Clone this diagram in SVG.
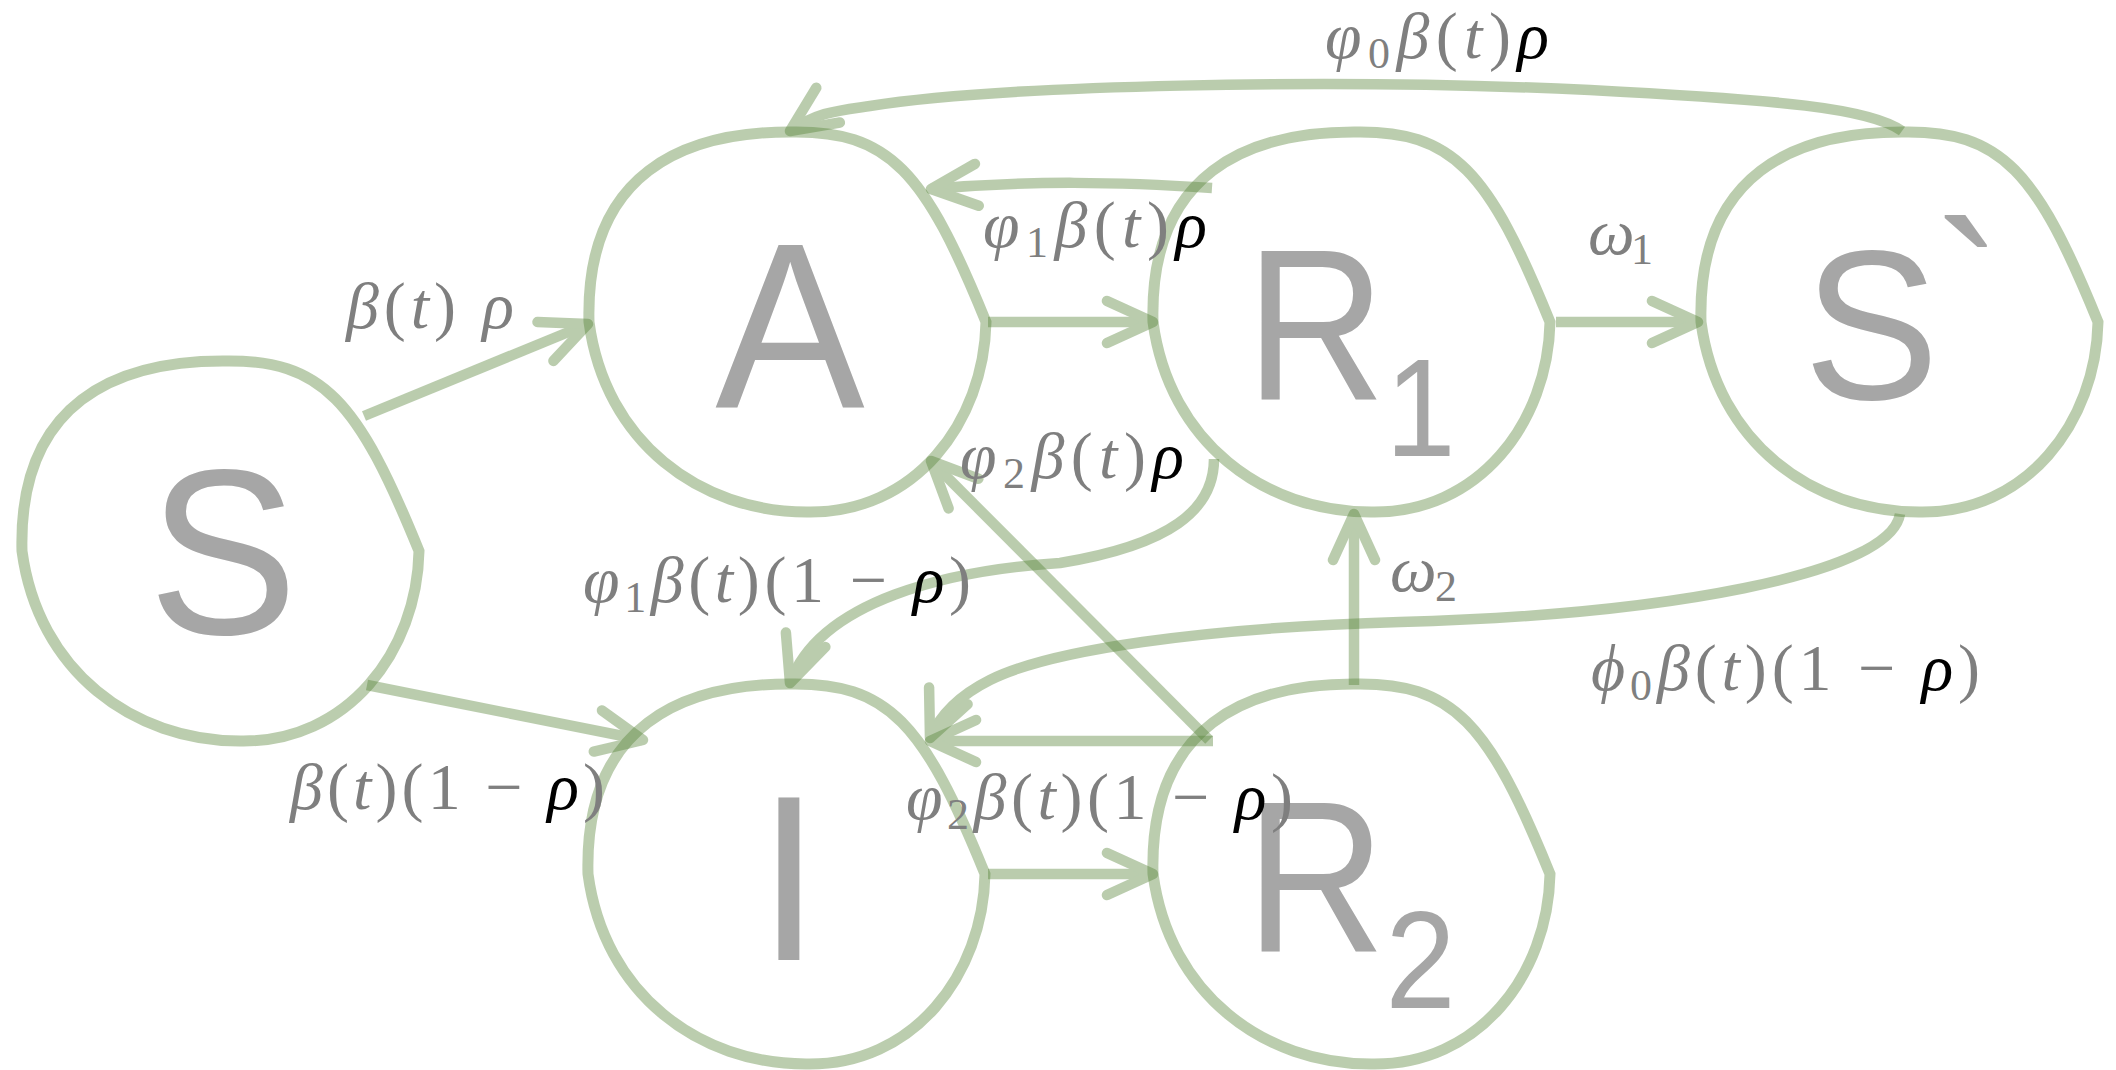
<svg xmlns="http://www.w3.org/2000/svg" xmlns:xlink="http://www.w3.org/1999/xlink" width="2116" height="1070" viewBox="0 0 2116 1070">
<style>
.blob{fill:none;stroke:#548235;stroke-opacity:0.4;stroke-width:11}
.nl{font-family:"Liberation Sans",Arial,sans-serif;fill:#a6a6a6}
.edge{fill:none;stroke:#548235;stroke-width:10.5;opacity:0.4;marker-end:url(#ah)}
.lbl{font-family:"Liberation Serif","Times New Roman",serif;font-size:66px;fill:#7f7f7f}
.i{font-style:italic}
.k{fill:#000}
.sub{font-size:44px}
</style>
<defs>
<path id="blob" class="blob" d="M -201,0 C -205,-150 -105,-190 0,-190 C 100,-192 135,-150 196,0 C 194,100 125,192 17,190 C -90,190 -185,120 -201,0 Z"/>
<marker id="ah" markerUnits="userSpaceOnUse" orient="auto" refX="0" refY="0" markerWidth="10" markerHeight="10" overflow="visible">
<path d="M -46,-21 L 0,0 L -46,21" fill="none" stroke="#548235" stroke-width="10.5" stroke-linecap="round" stroke-linejoin="round"/>
</marker>
</defs>
<rect width="2116" height="1070" fill="#fff"/>
<g id="nodes">
<g id="node-S" transform="translate(223,551)"><use href="#blob"/><text class="nl" x="0" y="83" font-size="236" text-anchor="middle" transform="scale(0.95,1)">S</text></g>
<g id="node-A" transform="translate(790,322)"><use href="#blob"/><text class="nl" x="0" y="85" font-size="236" text-anchor="middle" transform="scale(0.95,1)">A</text></g>
<g id="node-R1" transform="translate(1354,322)"><use href="#blob"/><text class="nl" x="-120.3" y="78" font-size="215" transform="scale(0.9,1)">R<tspan font-size="140" dy="56">1</tspan></text></g>
<g id="node-S2" transform="translate(1902,322)"><use href="#blob"/><text class="nl" x="-103.7" y="77" font-size="214" transform="scale(0.95,1)">S<tspan dx="-5" dy="-27">`</tspan></text></g>
<g id="node-I" transform="translate(789,874)"><use href="#blob"/><text class="nl" x="0" y="86" font-size="236" text-anchor="middle" transform="scale(0.95,1)">I</text></g>
<g id="node-R2" transform="translate(1354,874)"><use href="#blob"/><text class="nl" x="-120.3" y="78" font-size="215" transform="scale(0.9,1)">R<tspan font-size="140" dy="56">2</tspan></text></g>
</g>
<g id="connectors">
<path class="edge" d="M 364,416 L 588,324"/>
<path class="edge" d="M 367,685 L 643,740"/>
<path class="edge" d="M 988,322 L 1153,322"/>
<path class="edge" d="M 1556,322 L 1698,322"/>
<path class="edge" d="M 1212,188 C 1120,182 1030,180 931,189"/>
<path class="edge" d="M 1214,459 C 1214,510 1170,545 1060,563 C 950,570 820,600 790,683"/>
<path class="edge" d="M 1209,740 L 931,461"/>
<path class="edge" d="M 1213,741 L 930,741"/>
<path class="edge" d="M 988,874 L 1153,874"/>
<path class="edge" d="M 1354,685 L 1354,514"/>
<path class="edge" d="M 1902,131 C 1870,108 1780,100 1590,90 C 1330,78 1000,85 870,106 C 835,111 818,112 790,131"/>
<path class="edge" d="M 1900,514 C 1890,575 1660,615 1400,622 C 1200,628 1050,650 990,680 C 960,695 940,715 930,738"/>
</g>
<g id="labels">
<text class="lbl" x="346" y="328" textLength="168"><tspan class="i">β</tspan>(<tspan class="i">t</tspan>) <tspan class="i">ρ</tspan></text>
<text class="lbl" x="1325" y="58" font-size="64" textLength="224"><tspan class="i">φ</tspan><tspan class="sub" dy="10">0</tspan><tspan class="i" dy="-10">β</tspan>(<tspan class="i">t</tspan>)<tspan class="i k">ρ</tspan></text>
<text class="lbl" x="983" y="247" textLength="224"><tspan class="i">φ</tspan><tspan class="sub" dy="10">1</tspan><tspan class="i" dy="-10">β</tspan>(<tspan class="i">t</tspan>)<tspan class="i k">ρ</tspan></text>
<text class="lbl" x="1588" y="254" textLength="65"><tspan class="i">ω</tspan><tspan class="sub" dy="10">1</tspan></text>
<text class="lbl" x="960" y="478" textLength="224"><tspan class="i">φ</tspan><tspan class="sub" dy="10">2</tspan><tspan class="i" dy="-10">β</tspan>(<tspan class="i">t</tspan>)<tspan class="i k">ρ</tspan></text>
<text class="lbl" x="583" y="602" textLength="388"><tspan class="i">φ</tspan><tspan class="sub" dy="10">1</tspan><tspan class="i" dy="-10">β</tspan>(<tspan class="i">t</tspan>)(1 − <tspan class="i k">ρ</tspan>)</text>
<text class="lbl" x="1390" y="591" textLength="67"><tspan class="i">ω</tspan><tspan class="sub" dy="10">2</tspan></text>
<text class="lbl" x="290" y="809" textLength="315"><tspan class="i">β</tspan>(<tspan class="i">t</tspan>)(1 − <tspan class="i k">ρ</tspan>)</text>
<text class="lbl" x="906" y="819" textLength="387"><tspan class="i">φ</tspan><tspan class="sub" dy="10">2</tspan><tspan class="i" dy="-10">β</tspan>(<tspan class="i">t</tspan>)(1 − <tspan class="i k">ρ</tspan>)</text>
<text class="lbl" x="1591" y="690" textLength="389"><tspan class="i">ϕ</tspan><tspan class="sub" dy="10">0</tspan><tspan class="i" dy="-10">β</tspan>(<tspan class="i">t</tspan>)(1 − <tspan class="i k">ρ</tspan>)</text>
</g>
</svg>
